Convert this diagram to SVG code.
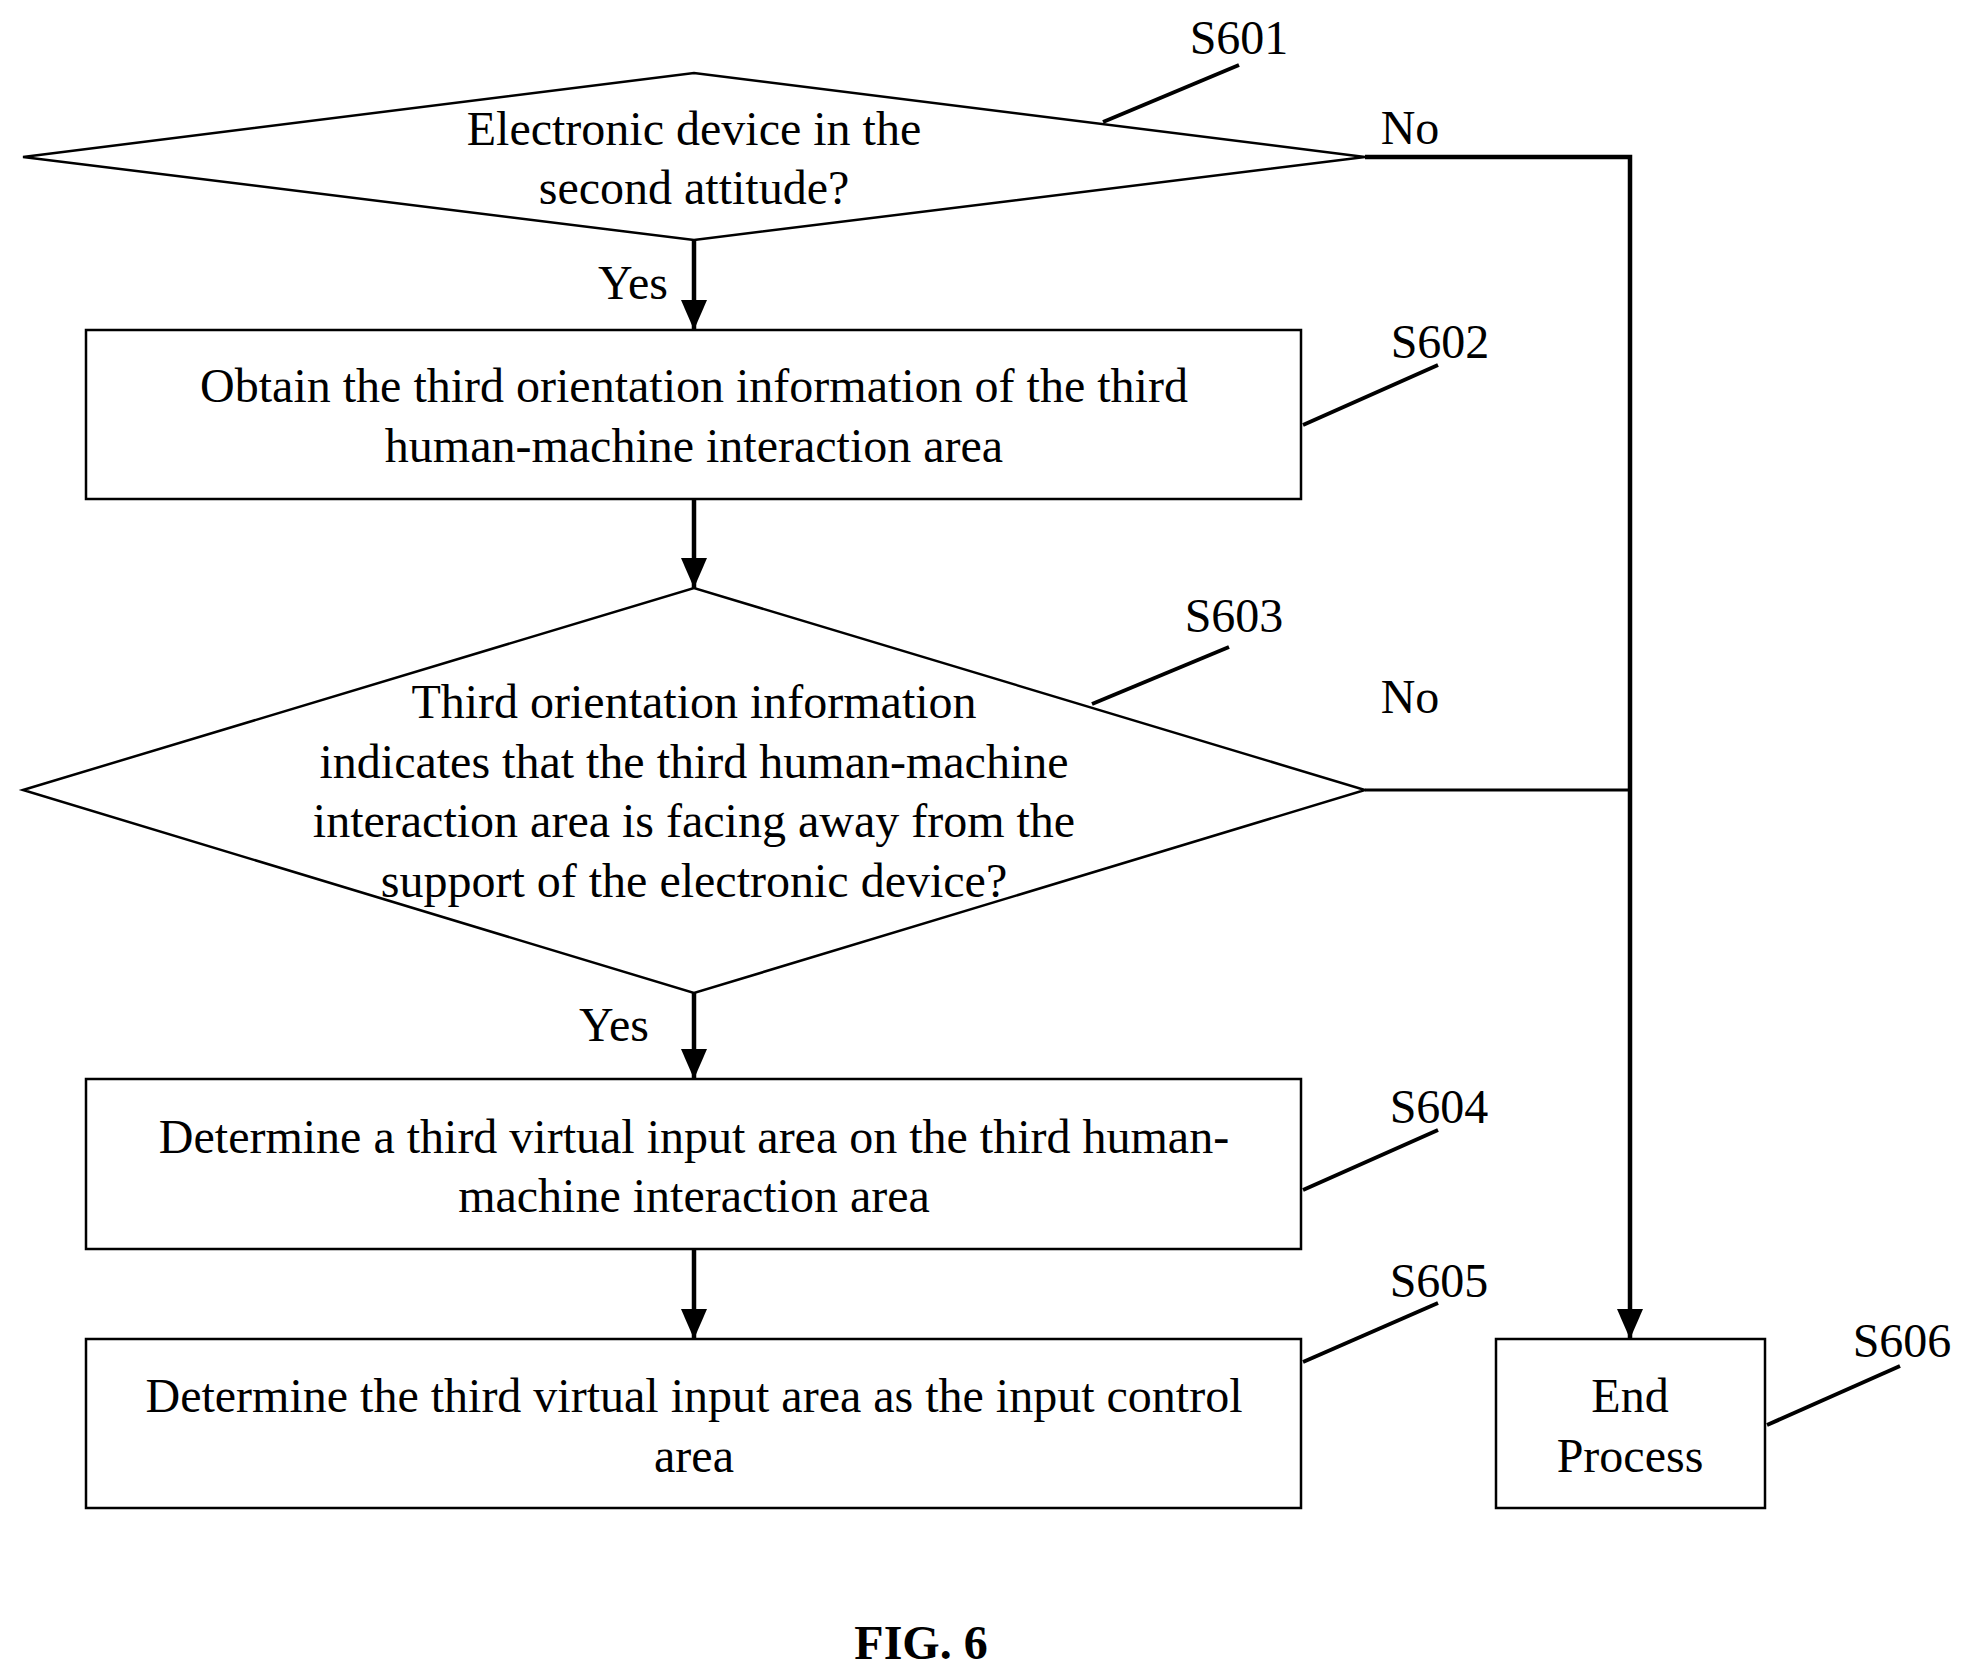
<svg xmlns="http://www.w3.org/2000/svg" width="1963" height="1673" viewBox="0 0 1963 1673">
<style>
text{font-family:"Liberation Serif",serif;font-size:48px;fill:#000;text-anchor:middle}
.s{fill:#fff;stroke:#000;stroke-width:2.5}
.c{fill:none;stroke:#000;stroke-width:4.5}
.l{stroke:#000;stroke-width:4}
</style>
<defs><marker id="a" viewBox="-30 -15 30 30" refX="0" refY="0" markerWidth="30" markerHeight="30" markerUnits="userSpaceOnUse" orient="auto"><path d="M-30,-13L0,0L-30,13z" fill="#000"/></marker></defs>
<rect width="1963" height="1673" fill="#fff"/>
<g id="connectors">
<path class="c" d="M694,240V330" marker-end="url(#a)"/>
<path class="c" d="M694,499V588" marker-end="url(#a)"/>
<path class="c" d="M694,993V1079" marker-end="url(#a)"/>
<path class="c" d="M694,1249V1339" marker-end="url(#a)"/>
<path class="c" d="M1365,157H1630V1339" marker-end="url(#a)"/>
<path class="c" style="stroke-width:3" d="M1365,790H1630"/>
<text x="633" y="299">Yes</text><text x="1410" y="144">No</text>
<text x="614" y="1041">Yes</text><text x="1410" y="713">No</text>
</g>
<g id="S601"><path class="s" d="M23,157L694,73L1365,157L694,240Z"/>
<text x="694" y="145">Electronic device in the</text><text x="694" y="204">second attitude?</text>
<line class="l" x1="1103" y1="122" x2="1239" y2="65"/><text x="1239" y="54">S601</text></g>
<g id="S602"><rect class="s" x="86" y="330" width="1215" height="169"/>
<text x="694" y="402">Obtain the third orientation information of the third</text><text x="694" y="462">human-machine interaction area</text>
<line class="l" x1="1303" y1="425" x2="1438" y2="365"/><text x="1440" y="358">S602</text></g>
<g id="S603"><path class="s" d="M23,790L694,588L1365,790L694,993Z"/>
<text x="694" y="718">Third orientation information</text><text x="694" y="778">indicates that the third human-machine</text><text x="694" y="837">interaction area is facing away from the</text><text x="694" y="897">support of the electronic device?</text>
<line class="l" x1="1092" y1="704" x2="1229" y2="647"/><text x="1234" y="632">S603</text></g>
<g id="S604"><rect class="s" x="86" y="1079" width="1215" height="170"/>
<text x="694" y="1153">Determine a third virtual input area on the third human-</text><text x="694" y="1212">machine interaction area</text>
<line class="l" x1="1303" y1="1190" x2="1438" y2="1130"/><text x="1439" y="1123">S604</text></g>
<g id="S605"><rect class="s" x="86" y="1339" width="1215" height="169"/>
<text x="694" y="1412">Determine the third virtual input area as the input control</text><text x="694" y="1472">area</text>
<line class="l" x1="1303" y1="1362" x2="1438" y2="1303"/><text x="1439" y="1297">S605</text></g>
<g id="S606"><rect class="s" x="1496" y="1339" width="269" height="169"/>
<text x="1630" y="1412">End</text><text x="1630" y="1472">Process</text>
<line class="l" x1="1767" y1="1425" x2="1900" y2="1366"/><text x="1902" y="1357">S606</text></g>
<text x="921" y="1659" style="font-weight:bold">FIG. 6</text>
</svg>
